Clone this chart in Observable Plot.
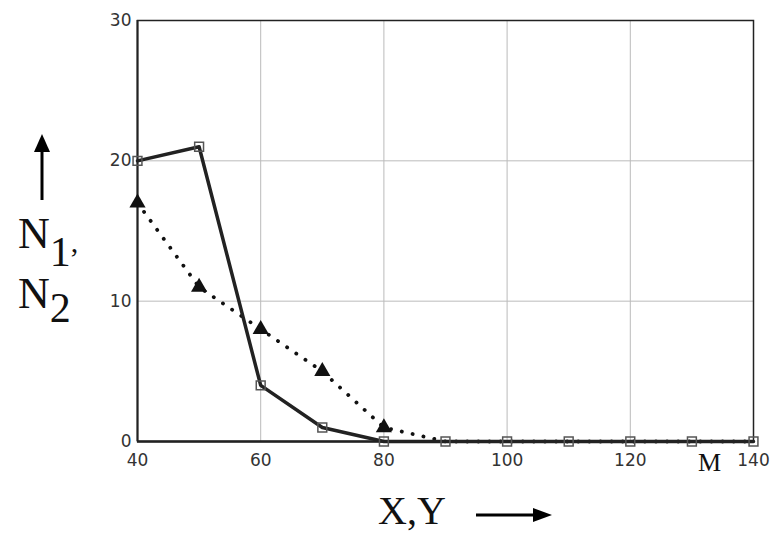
<!DOCTYPE html>
<html>
<head>
<meta charset="utf-8">
<script src="https://cdn.jsdelivr.net/npm/d3@7"></script>
<script src="https://cdn.jsdelivr.net/npm/@observablehq/plot@0.6"></script>
<style>
  html, body { margin: 0; padding: 0; background: #fff; }
  #chart svg { display: block; }
</style>
</head>
<body>
<div id="chart"></div>
<script>
const xValues = [40, 50, 60, 70, 80, 90, 100, 110, 120, 130, 140];
const n1Values = [20, 21, 4, 1, 0, 0, 0, 0, 0, 0, 0];
const n2Values = [17, 11, 8, 5, 1, 0, 0, 0, 0, 0, 0];
const xTicks = [40, 60, 80, 100, 120, 140];
const yTicks = [0, 10, 20, 30];

const n1 = xValues.map((x, i) => ({x, y: n1Values[i]}));
const n2 = xValues.map((x, i) => ({x, y: n2Values[i]}));

const W = 780, H = 534;
const chart = Plot.plot({
  width: W, height: H,
  marginLeft: 137, marginRight: 27, marginTop: 20, marginBottom: 93,
  style: {fontFamily: "DejaVu Sans, sans-serif", fontSize: "17px", color: "#333", background: "#fff"},
  x: {domain: [40, 140], ticks: xTicks, label: null, tickSize: 0, tickPadding: 12},
  y: {domain: [0, 30], ticks: yTicks, label: null, tickSize: 0, tickPadding: 6},
  marks: [
    Plot.gridX(xTicks, {stroke: "#bbb", strokeOpacity: 1, strokeWidth: 1}),
    Plot.gridY(yTicks, {stroke: "#bbb", strokeOpacity: 1, strokeWidth: 1}),
    Plot.frame({stroke: "#222", strokeWidth: 1.5}),
    Plot.ruleY([0], {stroke: "#222", strokeWidth: 2.5}),
    Plot.ruleX([40], {stroke: "#222", strokeWidth: 2}),
    Plot.line(n2, {x: "x", y: "y", stroke: "#111", strokeWidth: 3.8, strokeDasharray: "0.1,11", strokeLinecap: "round"}),
    Plot.line(n1, {x: "x", y: "y", stroke: "#222", strokeWidth: 3.5}),
    Plot.dot(n2.filter(d => d.y > 0), {x: "x", y: "y", symbol: "triangle", fill: "#111", stroke: "none", r: 6}),
    Plot.dot(n1, {x: "x", y: "y", symbol: "square", fill: "none", stroke: "#555", strokeWidth: 1.5, r: 5})
  ]
});
document.getElementById("chart").appendChild(chart);

const svg = d3.select(chart);
const serif = "Liberation Serif, DejaVu Serif, serif";
// y arrow
svg.append("line").attr("x1", 42).attr("x2", 42).attr("y1", 200).attr("y2", 148)
  .attr("stroke", "#000").attr("stroke-width", 3);
svg.append("path").attr("d", "M42,134 L34,152 L50,152 Z").attr("fill", "#000");
// N1, N2
const t1 = svg.append("text").attr("x", 18).attr("y", 248).attr("text-anchor", "start")
  .attr("font-family", serif).attr("font-size", 44).attr("fill", "#111");
t1.append("tspan").text("N");
t1.append("tspan").attr("dy", 18).attr("font-size", 42).text("1");
t1.append("tspan").attr("dy", -14).attr("font-size", 30).text(",");
const t2 = svg.append("text").attr("x", 18).attr("y", 308).attr("text-anchor", "start")
  .attr("font-family", serif).attr("font-size", 44).attr("fill", "#111");
t2.append("tspan").text("N");
t2.append("tspan").attr("dy", 14).attr("font-size", 42).text("2");
// x label
svg.append("text").attr("x", 378).attr("y", 524).attr("text-anchor", "start")
  .attr("font-family", serif).attr("font-size", 40).attr("fill", "#111").text("X,Y");
svg.append("line").attr("x1", 476).attr("x2", 535).attr("y1", 515).attr("y2", 515)
  .attr("stroke", "#000").attr("stroke-width", 3);
svg.append("path").attr("d", "M552,515 L533,508 L533,522 Z").attr("fill", "#000");
// M marker label
svg.append("text").attr("x", 698).attr("y", 471).attr("text-anchor", "start")
  .attr("font-family", serif).attr("font-size", 26).attr("fill", "#111").text("M");
</script>
</body>
</html>
